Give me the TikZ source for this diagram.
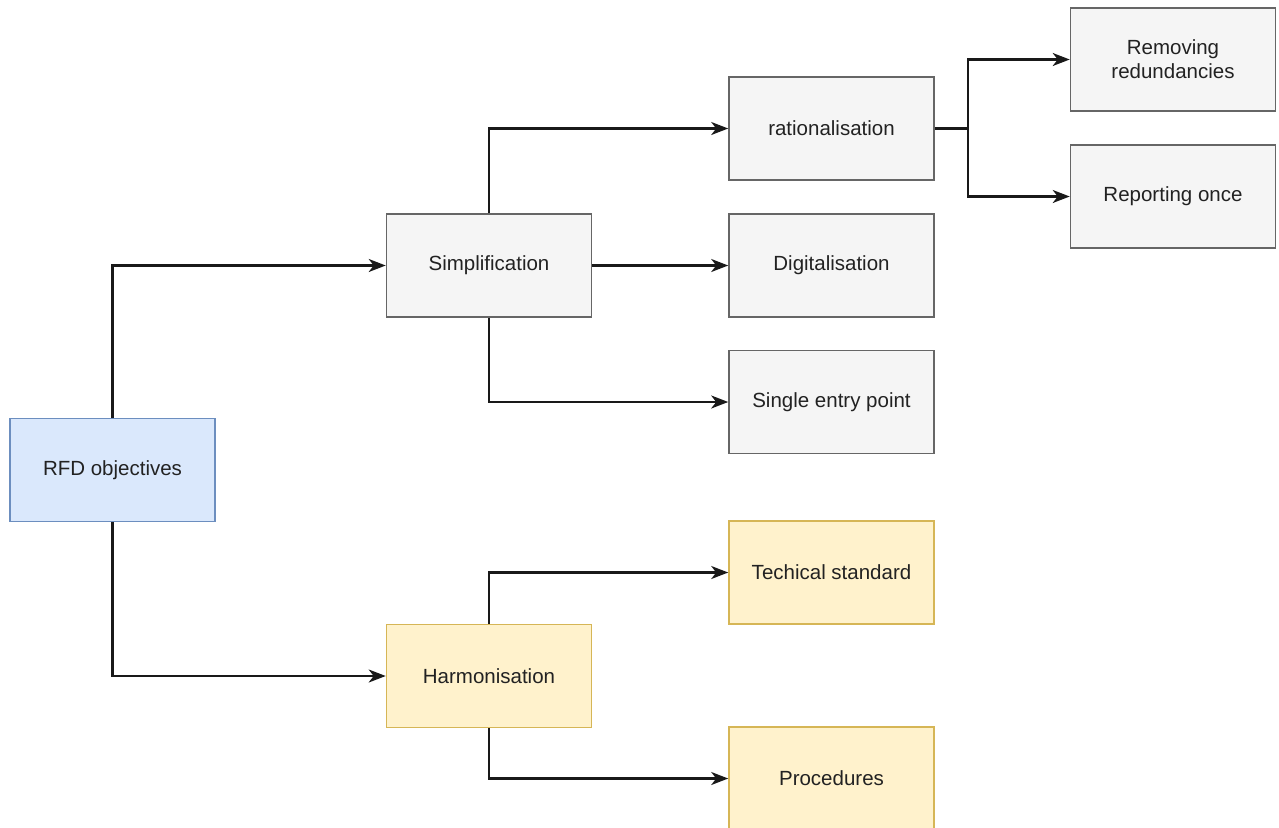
\documentclass[tikz,border=0pt]{standalone}
\usepackage{fontspec}
\setmainfont{Liberation Sans}
\usetikzlibrary{arrows.meta}
\definecolor{grayfill}{HTML}{F5F5F5}
\definecolor{graydraw}{HTML}{666666}
\definecolor{bluefill}{HTML}{DAE8FC}
\definecolor{bluedraw}{HTML}{6C8EBF}
\definecolor{yellowfill}{HTML}{FFF2CC}
\definecolor{yellowdraw}{HTML}{D6B656}
\definecolor{txt}{HTML}{222222}
\tikzset{
  box/.style={rectangle, minimum width=205pt, minimum height=103pt, inner sep=2pt,
    align=center, line width=1.6pt, text=txt,
    font=\fontsize{20.5}{24}\selectfont},
  graybox/.style={box, fill=grayfill, draw=graydraw},
  bluebox/.style={box, fill=bluefill, draw=bluedraw},
  yellowbox/.style={box, fill=yellowfill, draw=yellowdraw},
  link/.style={draw=black!90, line width=2.1pt,
    -{Stealth[length=17pt, width=13pt, inset=5pt]}},
}
\begin{document}
\begin{tikzpicture}[x=1pt, y=-1pt]
\useasboundingbox (0,0) rectangle (1279,827);
\clip (0,0) rectangle (1279,827);
\fill[white] (0,0) rectangle (1279,827);

% objectives root
\node[bluebox] (rfd) at (112.5,470) {RFD objectives};

% first level
\node[graybox] (simp) at (489,265.5) {Simplification};
\node[yellowbox] (harm) at (489,676) {Harmonisation};

% simplification branches
\node[graybox] (rat)  at (831.5,128.5) {rationalisation};
\node[graybox] (dig)  at (831.5,265.5) {Digitalisation};
\node[graybox] (sing) at (831.5,402)   {Single entry point};

% harmonisation branches
\node[yellowbox] (tech) at (831.5,572.5) {Techical standard};
\node[yellowbox] (proc) at (831.5,778.5) {Procedures};

% rationalisation branches
\node[graybox] (rem) at (1173,59.5)  {Removing\\redundancies};
\node[graybox] (rep) at (1173,196.5) {Reporting once};

\coordinate (split) at (968,128.5);

% connectors
\draw[link] (rfd.north) |- (simp.west);
\draw[link] (rfd.south) |- (harm.west);
\draw[link] (simp.north) |- (rat.west);
\draw[link] (simp.east) -- (dig.west);
\draw[link] (simp.south) |- (sing.west);
\draw[link] (harm.north) |- (tech.west);
\draw[link] (harm.south) |- (proc.west);
\draw[link] (rat.east) -- (split) |- (rem.west);
\draw[link] (split) |- (rep.west);
\end{tikzpicture}
\end{document}
